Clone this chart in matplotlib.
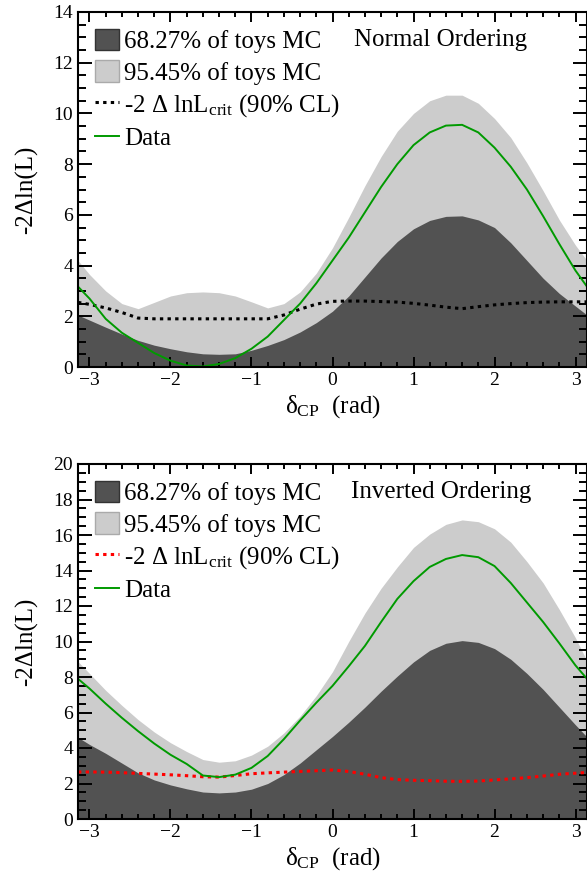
import numpy as np
import matplotlib
matplotlib.use("Agg")
import matplotlib.pyplot as plt
from matplotlib.patches import Patch
from matplotlib.lines import Line2D
from matplotlib.ticker import MultipleLocator

plt.rcParams['font.family'] = ['Liberation Serif', 'DejaVu Serif']
plt.rcParams['mathtext.fontset'] = 'custom'
plt.rcParams['mathtext.rm'] = 'Liberation Serif'
plt.rcParams['mathtext.it'] = 'Liberation Serif:italic'

# delta_CP grid (rad)
dcp = [-3.14159, -3.0, -2.8, -2.6, -2.4, -2.2, -2.0, -1.8, -1.6, -1.4, -1.2,
       -1.0, -0.8, -0.6, -0.4, -0.2, 0.0, 0.2, 0.4, 0.6, 0.8, 1.0, 1.2, 1.4,
       1.6, 1.8, 2.0, 2.2, 2.4, 2.6, 2.8, 3.0, 3.14159]

# normal ordering
no_data = [3.17, 2.7, 1.9, 1.35, 0.95, 0.55, 0.25, 0.06, 0.02, 0.12, 0.35,
           0.72, 1.2, 1.85, 2.5, 3.3, 4.2, 5.1, 6.1, 7.1, 8.0, 8.75, 9.25, 9.52,
           9.55, 9.25, 8.65, 7.9, 7.0, 5.95, 4.85, 3.8, 3.17]
no_95 = [4.2, 3.65, 3.0, 2.5, 2.3, 2.55, 2.8, 2.93, 2.96, 2.93, 2.8,
         2.57, 2.33, 2.5, 2.96, 3.7, 4.7, 5.9, 7.15, 8.3, 9.3, 10.0, 10.5, 10.72,
         10.72, 10.4, 9.8, 9.05, 8.05, 6.95, 5.8, 4.8, 4.2]
no_68 = [2.05, 1.85, 1.57, 1.3, 1.05, 0.86, 0.72, 0.6, 0.52, 0.5, 0.52,
         0.66, 0.85, 1.08, 1.38, 1.75, 2.2, 2.8, 3.55, 4.3, 4.95, 5.45, 5.78, 5.94,
         5.96, 5.8, 5.5, 4.9, 4.2, 3.5, 2.9, 2.4, 2.05]
no_crit = [2.55, 2.47, 2.33, 2.15, 1.93, 1.9, 1.9, 1.9, 1.9, 1.9, 1.9,
           1.9, 1.9, 2.05, 2.28, 2.48, 2.59, 2.6, 2.6, 2.58, 2.56, 2.51, 2.44, 2.36,
           2.3, 2.38, 2.45, 2.5, 2.54, 2.56, 2.57, 2.57, 2.57]

# inverted ordering
io_data = [7.9, 7.35, 6.5, 5.7, 4.95, 4.25, 3.62, 3.1, 2.45, 2.36, 2.5,
           2.88, 3.55, 4.5, 5.55, 6.55, 7.5, 8.6, 9.75, 11.1, 12.4, 13.4, 14.2, 14.65,
           14.87, 14.75, 14.25, 13.3, 12.2, 11.1, 9.9, 8.65, 7.9]
io_95 = [8.87, 8.2, 7.25, 6.4, 5.6, 4.9, 4.3, 3.8, 3.35, 3.2, 3.28,
         3.6, 4.1, 4.85, 5.8, 6.95, 8.3, 10.0, 11.6, 13.0, 14.2, 15.3, 16.05, 16.6,
         16.85, 16.75, 16.35, 15.6, 14.5, 13.3, 11.8, 10.2, 8.9]
io_68 = [4.6, 4.2, 3.7, 3.15, 2.6, 2.2, 1.92, 1.7, 1.52, 1.47, 1.52,
         1.68, 2.0, 2.5, 3.15, 3.9, 4.65, 5.45, 6.3, 7.2, 8.05, 8.85, 9.5, 9.9,
         10.05, 9.95, 9.6, 9.0, 8.2, 7.3, 6.3, 5.3, 4.62]
io_crit = [2.65, 2.65, 2.64, 2.61, 2.57, 2.53, 2.49, 2.44, 2.38, 2.36, 2.45,
           2.55, 2.6, 2.64, 2.68, 2.72, 2.76, 2.68, 2.52, 2.33, 2.22, 2.18, 2.16, 2.13,
           2.12, 2.14, 2.2, 2.26, 2.33, 2.42, 2.52, 2.58, 2.62]

dark = '#525252'
light = '#cccccc'
green = '#009a00'
dots = (0, (1.1, 1.4))

fig = plt.figure(figsize=(5.87, 8.77), dpi=100)
W, H = 587.0, 877.0
ax1 = fig.add_axes([78/W, 1-367/H, 509/W, 355/H])
ax2 = fig.add_axes([78/W, 1-819/H, 509/W, 355/H])

for ax, d95, d68, crit, dat, ccol, ymax, title in [
        (ax1, no_95, no_68, no_crit, no_data, 'black', 14, 'Normal Ordering'),
        (ax2, io_95, io_68, io_crit, io_data, 'red', 20, 'Inverted Ordering')]:
    ax.fill_between(dcp, 0, d95, color=light, lw=0)
    ax.fill_between(dcp, 0, d68, color=dark, lw=0)
    ax.plot(dcp, crit, color=ccol, lw=2.2, ls=dots)
    ax.plot(dcp, dat, color=green, lw=1.4)
    ax.set_xlim(-np.pi, np.pi)
    ax.set_ylim(0, ymax)
    ax.xaxis.set_major_locator(MultipleLocator(1))
    ax.xaxis.set_minor_locator(MultipleLocator(0.2))
    ax.yaxis.set_major_locator(MultipleLocator(2))
    ax.yaxis.set_minor_locator(MultipleLocator(0.5))
    ax.tick_params(which='both', direction='in', top=True, right=True,
                   labelsize=14, width=1.4)
    ax.tick_params(axis='x', which='major', length=7.5)
    ax.tick_params(axis='x', which='minor', length=3.6)
    ax.tick_params(axis='y', which='major', length=10)
    ax.tick_params(axis='y', which='minor', length=5.8)
    for s in ax.spines.values():
        s.set_linewidth(1.5)
    ax.set_xlabel('δ$_{\\rm CP}$  (rad)', fontsize=18, labelpad=3)
    ax.set_ylabel('-2Δln(L)', fontsize=18, labelpad=11)
    ax.text(0.713, 0.921, title, transform=ax.transAxes, fontsize=18,
            ha='center', va='center')
    handles = [Patch(facecolor=dark, edgecolor='#333333', lw=1),
               Patch(facecolor=light, edgecolor='#aaaaaa', lw=1),
               Line2D([], [], color=ccol, lw=2.2, ls=dots),
               Line2D([], [], color=green, lw=1.4)]
    labels = ['68.27% of toys MC', '95.45% of toys MC',
              '-2 Δ lnL$_{\\rm crit}$ (90% CL)', 'Data']
    ax.legend(handles, labels, loc='upper left', bbox_to_anchor=(0.034, 0.953),
              frameon=False, fontsize=18, borderpad=0, borderaxespad=0,
              handlelength=0.95, handleheight=0.95, handletextpad=0.2,
              labelspacing=0.29)

fig.savefig('out.png', dpi=100)
